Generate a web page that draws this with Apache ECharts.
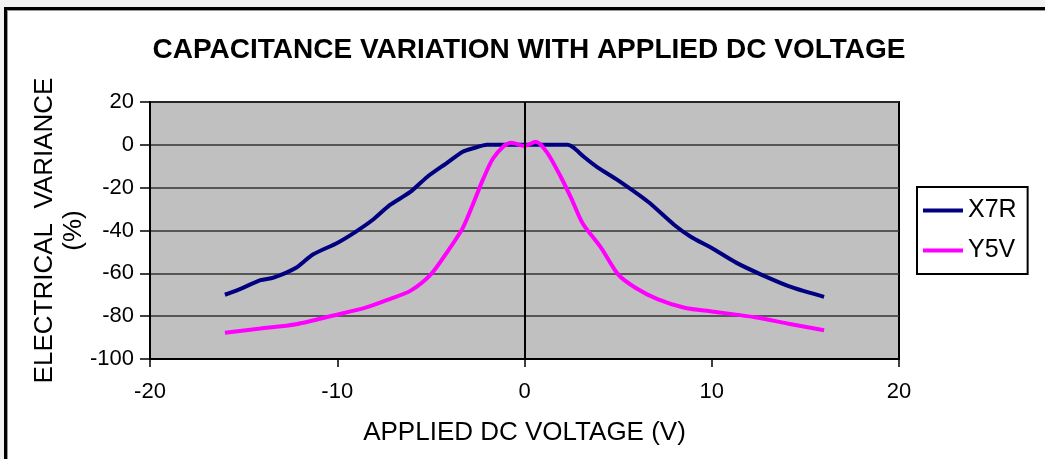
<!DOCTYPE html>
<html>
<head>
<meta charset="utf-8">
<script src="https://cdn.jsdelivr.net/npm/echarts@6/dist/echarts.min.js"></script>
<style>
html,body{margin:0;padding:0;background:#f2f2f2;width:1045px;height:459px;overflow:hidden;}
#frame{position:absolute;left:4px;top:7px;width:1200px;height:600px;background:#fff;border-left:3px solid #000;border-top:3px solid #000;box-shadow:inset 1px 1px 0 #999;}
#chart{position:absolute;left:0;top:0;width:1045px;height:459px;}
</style>
</head>
<body>
<div id="frame"></div>
<div id="chart"></div>
<script>
// Data
const x7rVolt = [-16, -15.2, -14.1, -13.4, -12.2, -11.3, -10, -9, -8.1, -7.2, -6.1, -5.2, -4.1, -3.3, -2.7, -2, 0, 2.3, 2.6, 3.2, 3.9, 5, 6.6, 8, 8.9, 10, 11.3, 12.7, 14.3, 16];
const x7rVar  = [-70, -67.4, -63.2, -62, -57.4, -51.2, -45.8, -40.5, -35, -28.2, -22, -15, -8.2, -3.2, -1.5, 0, 0, 0, -1.2, -5.8, -10.5, -16.6, -26.6, -37.4, -43, -48.2, -55, -60.8, -66.6, -71];
const y5vVolt = [-16, -14.1, -12.2, -10.2, -8.4, -7.2, -6.1, -5, -4.1, -3.3, -2.7, -2.2, -1.7, -1.1, -0.7, 0, 0.6, 1.2, 1.9, 2.5, 3.1, 4.1, 5, 5.9, 7.1, 8.6, 10, 12.3, 14.1, 16];
const y5vVar  = [-87.7, -85.8, -83.8, -79.7, -75.8, -72, -68.2, -60.5, -49.7, -38.9, -26.6, -15.8, -6.6, -0.5, 1, -0.5, 1.4, -3.5, -14.3, -25, -36.6, -48.2, -60.5, -66.6, -72, -76.2, -77.8, -80.5, -83.5, -86.6];
const seriesNames = ['X7R', 'Y5V'];
const seriesColors = ['#000080', '#ff00ff'];
const titleText = 'CAPACITANCE VARIATION WITH APPLIED DC VOLTAGE';
const xName = 'APPLIED DC VOLTAGE (V)';
const yName = 'ELECTRICAL  VARIANCE\n(%)';

const pairs = (xs, ys) => xs.map((x, i) => [x, ys[i]]);
const FONT = '"Liberation Sans", Arial, sans-serif';

const chart = echarts.init(document.getElementById('chart'), null, {renderer: 'canvas'});
chart.setOption({
  animation: false,
  backgroundColor: 'transparent',
  textStyle: {fontFamily: FONT},
  title: {
    text: titleText,
    left: 524, top: 31, textAlign: 'center',
    textStyle: {fontFamily: FONT, fontSize: 28, fontWeight: 'bold', color: '#000'}
  },
  legend: {
    orient: 'vertical',
    left: 917, top: 187,
    padding: [11, 11, 11, 6],
    itemWidth: 40, itemHeight: 4, itemGap: 15,
    icon: 'rect',
    backgroundColor: '#fff',
    borderColor: '#000', borderWidth: 2,
    textStyle: {fontFamily: FONT, fontSize: 25, color: '#000'},
    data: seriesNames
  },
  grid: {
    left: 150, right: 146, top: 102, bottom: 100,
    show: true, backgroundColor: '#c0c0c0', borderColor: '#000', borderWidth: 2,
    containLabel: false,
    outerBoundsMode: 'none'
  },
  xAxis: {
    type: 'value', min: -20, max: 20, interval: 10,
    name: xName, nameLocation: 'middle', nameGap: 61, nameMoveOverlap: false,
    nameTextStyle: {fontFamily: FONT, fontSize: 26, color: '#000'},
    axisLine: {show: true, onZero: false, lineStyle: {color: '#000', width: 2}},
    axisTick: {show: true, inside: false, length: 8, lineStyle: {color: '#000', width: 1.5}},
    axisLabel: {fontFamily: FONT, fontSize: 22, color: '#000', margin: 22},
    splitLine: {show: false}
  },
  yAxis: {
    type: 'value', min: -100, max: 20, interval: 20,
    name: yName, nameLocation: 'middle', nameGap: 62, nameMoveOverlap: false,
    nameTextStyle: {fontFamily: FONT, fontSize: 26, color: '#000', lineHeight: 29, align: 'center'},
    axisLine: {show: true, onZero: false, lineStyle: {color: '#000', width: 2}},
    axisTick: {show: true, inside: false, length: 10, lineStyle: {color: '#000', width: 1.5}},
    axisLabel: {fontFamily: FONT, fontSize: 22, color: '#000', margin: 16},
    splitLine: {show: true, lineStyle: {color: '#333', width: 1.5}}
  },
  series: [
    {
      name: seriesNames[0], type: 'line', data: pairs(x7rVolt, x7rVar),
      showSymbol: false, smooth: 0.25,
      lineStyle: {color: seriesColors[0], width: 4}, itemStyle: {color: seriesColors[0]},
      markLine: {
        silent: true, symbol: 'none', label: {show: false},
        lineStyle: {color: '#000', width: 2, type: 'solid'},
        data: [{xAxis: 0}]
      },
      z: 3
    },
    {
      name: seriesNames[1], type: 'line', data: pairs(y5vVolt, y5vVar),
      showSymbol: false, smooth: 0.25,
      lineStyle: {color: seriesColors[1], width: 4}, itemStyle: {color: seriesColors[1]},
      z: 4
    }
  ]
});
</script>
</body>
</html>
